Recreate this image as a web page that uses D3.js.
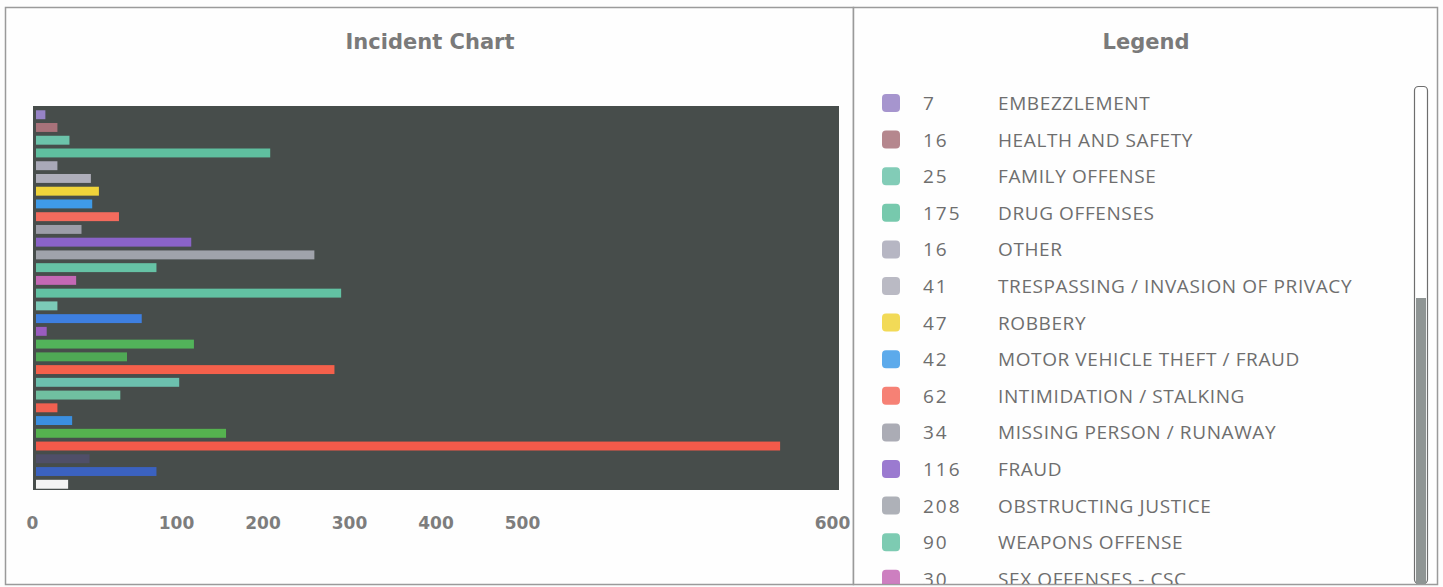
<!DOCTYPE html>
<html>
<head>
<meta charset="utf-8">
<script src="https://cdn.jsdelivr.net/npm/d3@7"></script>
<style>
    body { margin: 0; background: #fdfdfd; }
    #chart { width: 1443px; height: 587px; }
    .panel-title { font-family: "DejaVu Sans", Verdana, sans-serif; font-weight: bold; font-size: 21px; fill: #7a7a7a; }
    .x-axis text { font-family: "DejaVu Sans", Verdana, sans-serif; font-weight: bold; font-size: 17px; fill: #7d7d7d; }
    .legend-text { font-family: "Open Sans", "Noto Sans", sans-serif; font-size: 19px; letter-spacing: 0.6px; fill: #6e6e6e; }
    .legend-num { letter-spacing: 2px; }
</style>
</head>
<body>
<div id="chart"></div>
<script>
// data, in the order the bars are drawn (top to bottom)
// rows after SEX OFFENSES - CSC are scrolled out of the legend, names are guesses
const categories = [
    "EMBEZZLEMENT", "HEALTH AND SAFETY", "FAMILY OFFENSE", "DRUG OFFENSES", "OTHER",
    "TRESPASSING / INVASION OF PRIVACY", "ROBBERY", "MOTOR VEHICLE THEFT / FRAUD",
    "INTIMIDATION / STALKING", "MISSING PERSON / RUNAWAY", "FRAUD", "OBSTRUCTING JUSTICE",
    "WEAPONS OFFENSE", "SEX OFFENSES - CSC", "ASSAULT", "ARSON", "BURGLARY", "EXTORTION",
    "DAMAGE TO PROPERTY", "DISORDERLY CONDUCT", "LARCENY", "TRAFFIC OFFENSE", "LIQUOR",
    "KIDNAPPING", "STOLEN PROPERTY", "PUBLIC PEACE", "TRAFFIC ACCIDENT", "HOMICIDE",
    "AGGRAVATED ASSAULT", "SOLICITATION"
];
const counts = [7, 16, 25, 175, 16, 41, 47, 42, 62, 34, 116, 208, 90, 30, 228, 16, 79, 8,
    118, 68, 223, 107, 63, 16, 27, 142, 556, 40, 90, 24];
const colors = [
    "#9783c6", "#a8727a", "#6cc3aa", "#5fbf9f", "#a9a9b8", "#aeaeba", "#f0d43a", "#3f9be8",
    "#f46b5d", "#9c9da8", "#8a63c8", "#a0a3ab", "#66c2a5", "#c468b5", "#62c2a3", "#7ccab8",
    "#3e7fe0", "#9a5cc0", "#52b35a", "#4fa955", "#f5604b", "#6cc0ae", "#70c0a0", "#f06050",
    "#3b8fe0", "#55b24f", "#f45a4a", "#4f4f68", "#3b62c0", "#f4f4f4"
];
const tickValues = [0, 100, 200, 300, 400, 500, 600];

const W = 1443, H = 587;
const plot = {left: 33, right: 839, top: 106, bottom: 490};

const svg = d3.select("#chart").append("svg")
    .attr("width", W)
    .attr("height", H);

// panel frames
svg.append("rect")
    .attr("x", 5.5).attr("y", 7.5)
    .attr("width", 848).attr("height", 577)
    .attr("fill", "#fefefe").attr("stroke", "#9a9a9a").attr("stroke-width", 1.5);
svg.append("rect")
    .attr("x", 853.5).attr("y", 7.5)
    .attr("width", 584).attr("height", 577)
    .attr("fill", "#fefefe").attr("stroke", "#9a9a9a").attr("stroke-width", 1.5);

// titles
svg.append("text").attr("class", "panel-title")
    .attr("x", 430).attr("y", 49)
    .attr("text-anchor", "middle")
    .text("Incident Chart");
svg.append("text").attr("class", "panel-title")
    .attr("x", 1146).attr("y", 49)
    .attr("text-anchor", "middle")
    .text("Legend");

// plot background
svg.append("rect")
    .attr("x", plot.left).attr("y", plot.top)
    .attr("width", plot.right - plot.left).attr("height", plot.bottom - plot.top)
    .attr("fill", "#474d4b");

// scales
const x = d3.scaleLinear()
    .domain([0, 600])
    .range([plot.left + 3, plot.right]);

const y = d3.scaleBand()
    .domain(categories)
    .range([plot.top + 3, plot.bottom])
    .paddingInner(0.3)
    .paddingOuter(0.1);

// bars
svg.append("g").selectAll("rect")
    .data(categories)
    .enter()
    .append("rect")
    .attr("x", x(0))
    .attr("y", d => y(d))
    .attr("width", (d, i) => x(counts[i]) - x(0))
    .attr("height", y.bandwidth())
    .attr("fill", (d, i) => colors[i]);

// tick labels sit unevenly in the original, so they get their own scale
const labelScale = d3.scaleLinear()
    .domain([0, 100, 500, 600])
    .range([32, 176, 522, 832]);

const xAxis = d3.axisBottom(labelScale)
    .tickValues(tickValues)
    .tickSize(0)
    .tickPadding(0);

svg.append("g")
    .attr("class", "x-axis")
    .attr("transform", "translate(0, 517)")
    .call(xAxis)
    .call(g => g.select(".domain").remove());

// legend (scrollable list, clipped)
svg.append("clipPath").attr("id", "legend-clip")
    .append("rect")
    .attr("x", 860).attr("y", 84)
    .attr("width", 550).attr("height", 500);

const rowH = 36.6;
const legend = svg.append("g").attr("clip-path", "url(#legend-clip)");

const rows = legend.selectAll("g.row")
    .data(categories)
    .enter()
    .append("g")
    .attr("class", "row")
    .attr("transform", (d, i) => `translate(0, ${103 + i * rowH})`);

rows.append("rect")
    .attr("x", 882).attr("y", -9)
    .attr("width", 18).attr("height", 18)
    .attr("rx", 4)
    .attr("fill", (d, i) => colors[i])
    .attr("opacity", 0.85);

rows.append("text")
    .attr("class", "legend-text legend-num")
    .attr("x", 923).attr("y", 7)
    .text((d, i) => counts[i]);

rows.append("text")
    .attr("class", "legend-text")
    .attr("x", 998).attr("y", 7)
    .text(d => d);

// scrollbar
svg.append("rect")
    .attr("x", 1414.5).attr("y", 86.5)
    .attr("width", 13).attr("height", 497)
    .attr("rx", 4)
    .attr("fill", "#ffffff").attr("stroke", "#6e6e6e").attr("stroke-width", 1.2);
svg.append("rect")
    .attr("x", 1416).attr("y", 298)
    .attr("width", 10).attr("height", 286)
    .attr("fill", "#8f9594");
</script>
</body>
</html>
